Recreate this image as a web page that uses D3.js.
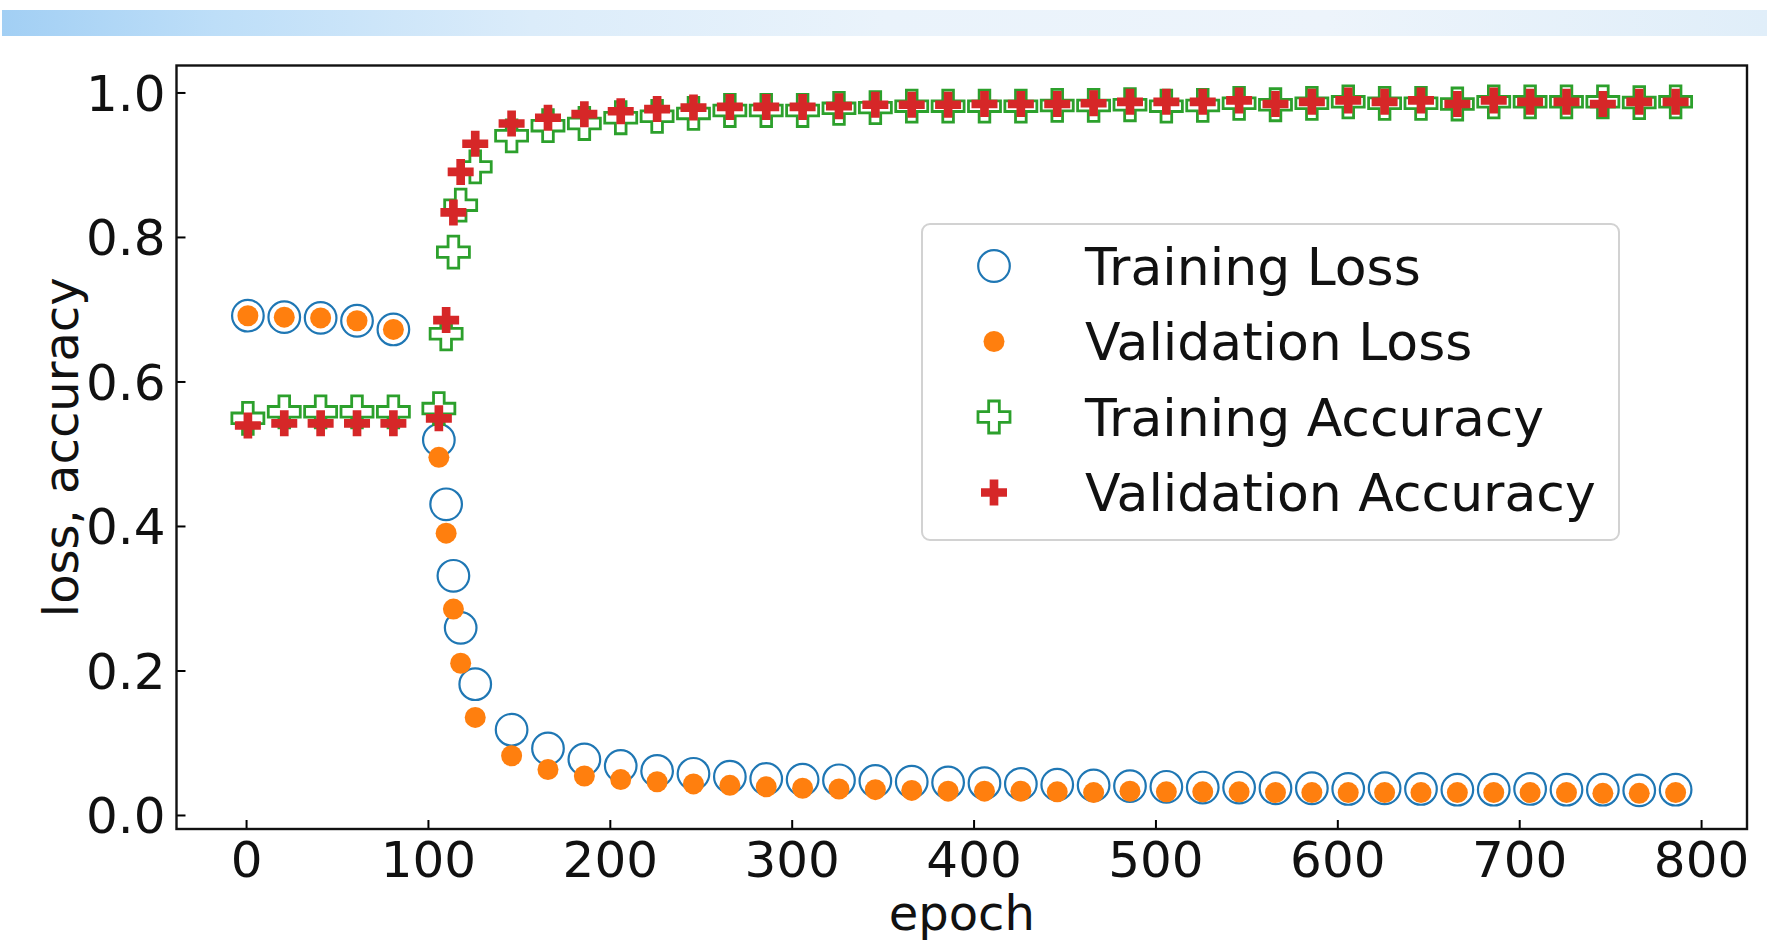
<!DOCTYPE html>
<html><head><meta charset="utf-8">
<script src="https://cdn.jsdelivr.net/npm/d3@7"></script>
<style>
body{margin:0;background:#fff;}
svg{display:block;font-family:"DejaVu Sans",sans-serif;}
</style>
</head><body>
<svg id="chart" width="1767" height="951"></svg>
<script>
const epochs = [1,21,41,61,81,106,110,114,118,126,146,166,186,206,226,246,266,286,306,326,346,366,386,406,426,446,466,486,506,526,546,566,586,606,626,646,666,686,706,726,746,766,786];
const trainingLoss = [0.691,0.689,0.688,0.684,0.672,0.519,0.430,0.331,0.259,0.181,0.118,0.092,0.077,0.068,0.061,0.057,0.053,0.050,0.049,0.048,0.047,0.046,0.045,0.044,0.043,0.042,0.041,0.040,0.039,0.038,0.038,0.037,0.037,0.036,0.037,0.036,0.035,0.035,0.036,0.035,0.035,0.034,0.035];
const validationLoss = [0.691,0.689,0.688,0.684,0.672,0.495,0.390,0.285,0.210,0.135,0.082,0.063,0.054,0.049,0.046,0.043,0.041,0.039,0.037,0.036,0.035,0.034,0.033,0.033,0.033,0.032,0.031,0.033,0.032,0.032,0.032,0.031,0.031,0.031,0.031,0.031,0.031,0.031,0.031,0.031,0.030,0.030,0.031];
const trainingAccuracy = [0.549,0.558,0.558,0.558,0.558,0.5625,0.666,0.779,0.844,0.897,0.940,0.954,0.957,0.965,0.967,0.971,0.975,0.975,0.975,0.978,0.979,0.981,0.981,0.981,0.981,0.982,0.982,0.983,0.981,0.982,0.985,0.983,0.985,0.987,0.985,0.985,0.984,0.987,0.987,0.987,0.987,0.986,0.987];
const validationAccuracy = [0.539,0.542,0.542,0.542,0.542,0.549,0.685,0.834,0.890,0.929,0.957,0.965,0.970,0.974,0.977,0.979,0.980,0.980,0.980,0.981,0.983,0.983,0.983,0.984,0.984,0.984,0.985,0.987,0.987,0.987,0.989,0.984,0.987,0.989,0.987,0.989,0.984,0.989,0.987,0.987,0.984,0.987,0.987];
const xTicks = [0,100,200,300,400,500,600,700,800];
const yTicks = [0.0,0.2,0.4,0.6,0.8,1.0];
const seriesNames = ["Training Loss","Validation Loss","Training Accuracy","Validation Accuracy"];
const xLabel = "epoch";
const yLabel = "loss, accuracy";

const svg = d3.select("#chart");
const W = 1767, H = 951;
const plot = {left:176.5, top:65.5, right:1747, bottom:829};

// banner
const defs = svg.append("defs");
const grad = defs.append("linearGradient").attr("id","banner").attr("x1","0").attr("x2","1").attr("y1","0").attr("y2","0");
[[0,"#a2cff4"],[0.12,"#bddef8"],[0.3,"#dbecfa"],[0.5,"#eaf3fb"],[0.75,"#edf4fb"],[1,"#e0eef9"]].forEach(s=>grad.append("stop").attr("offset",s[0]).attr("stop-color",s[1]));
svg.append("rect").attr("x",2).attr("y",10).attr("width",W-2).attr("height",26).attr("fill","url(#banner)");

// scales
const xExt = d3.extent(epochs);
const xPad = (xExt[1]-xExt[0])*0.05;
const x = d3.scaleLinear().domain([xExt[0]-xPad, xExt[1]+xPad]).range([plot.left, plot.right]);
const y = d3.scaleLinear().domain([-0.0194, 1.0373]).range([plot.bottom, plot.top]);

const fontSize = 50;

// axes
const xAxis = d3.axisBottom(x).tickValues(xTicks).tickFormat(d3.format("d")).tickSizeInner(-9).tickSizeOuter(0).tickPadding(12.5);
const gx = svg.append("g").attr("transform",`translate(0,${plot.bottom})`).call(xAxis);
gx.select(".domain").remove();
gx.selectAll(".tick line").attr("stroke","#000").attr("stroke-width",2);
gx.selectAll(".tick text").attr("font-size",fontSize).attr("fill","#111").attr("font-family","DejaVu Sans");

const yAxis = d3.axisLeft(y).tickValues(yTicks).tickFormat(d3.format(".1f")).tickSizeInner(-9).tickSizeOuter(0).tickPadding(11);
const gy = svg.append("g").attr("transform",`translate(${plot.left},0)`).call(yAxis);
gy.select(".domain").remove();
gy.selectAll(".tick line").attr("stroke","#000").attr("stroke-width",2);
gy.selectAll(".tick text").attr("font-size",fontSize).attr("fill","#111").attr("font-family","DejaVu Sans").attr("dy","0.36em");

// frame
svg.append("rect").attr("x",plot.left).attr("y",plot.top).attr("width",plot.right-plot.left).attr("height",plot.bottom-plot.top)
  .attr("fill","none").attr("stroke","#111").attr("stroke-width",2.4);

// axis labels
svg.append("text").attr("x",(plot.left+plot.right)/2).attr("y",930).attr("text-anchor","middle")
  .attr("font-size",48).attr("fill","#111").text(xLabel);
svg.append("text").attr("transform",`translate(78,${(plot.top+plot.bottom)/2}) rotate(-90)`).attr("text-anchor","middle")
  .attr("font-size",48).attr("fill","#111").text(yLabel);

// marker generators
const circleBig = d3.symbol(d3.symbolCircle, Math.PI*15.8*15.8);
const circleSmall = d3.symbol(d3.symbolCircle, Math.PI*10.5*10.5);
const crossBig = d3.symbol(d3.symbolCross, 20*16*16/9);
const crossSmall = d3.symbol(d3.symbolCross, 20*13*13/9);

const styles = [
  {data:trainingLoss, gen:circleBig, fill:"none", stroke:"#1f77b4", sw:2.2},
  {data:validationLoss, gen:circleSmall, fill:"#ff7f0e", stroke:"none", sw:0},
  {data:trainingAccuracy, gen:crossBig, fill:"none", stroke:"#2ca02c", sw:2.8},
  {data:validationAccuracy, gen:crossSmall, fill:"#d62728", stroke:"none", sw:0}
];

styles.forEach(s=>{
  svg.append("g").selectAll("path").data(epochs.map((e,i)=>[e,s.data[i]])).join("path")
    .attr("d",s.gen())
    .attr("transform",d=>`translate(${x(d[0])},${y(d[1])})`)
    .attr("fill",s.fill).attr("stroke",s.stroke).attr("stroke-width",s.sw);
});

// legend
const lg = svg.append("g");
lg.append("rect").attr("x",922).attr("y",224).attr("width",697).attr("height",316).attr("rx",8)
  .attr("fill","#fff").attr("fill-opacity",0.8).attr("stroke","#d2d2d2").attr("stroke-width",2);
const rowY = d3.scalePoint().domain(seriesNames).range([266,492.5]);
seriesNames.forEach((n,i)=>{
  const s = styles[i];
  lg.append("path").attr("d",s.gen()).attr("transform",`translate(994,${rowY(n)})`)
    .attr("fill",s.fill).attr("stroke",s.stroke).attr("stroke-width",s.sw);
  lg.append("text").attr("x",1085).attr("y",rowY(n)).attr("dy","0.36em").attr("font-size",52).attr("fill","#111").text(n);
});
</script>
</body></html>
